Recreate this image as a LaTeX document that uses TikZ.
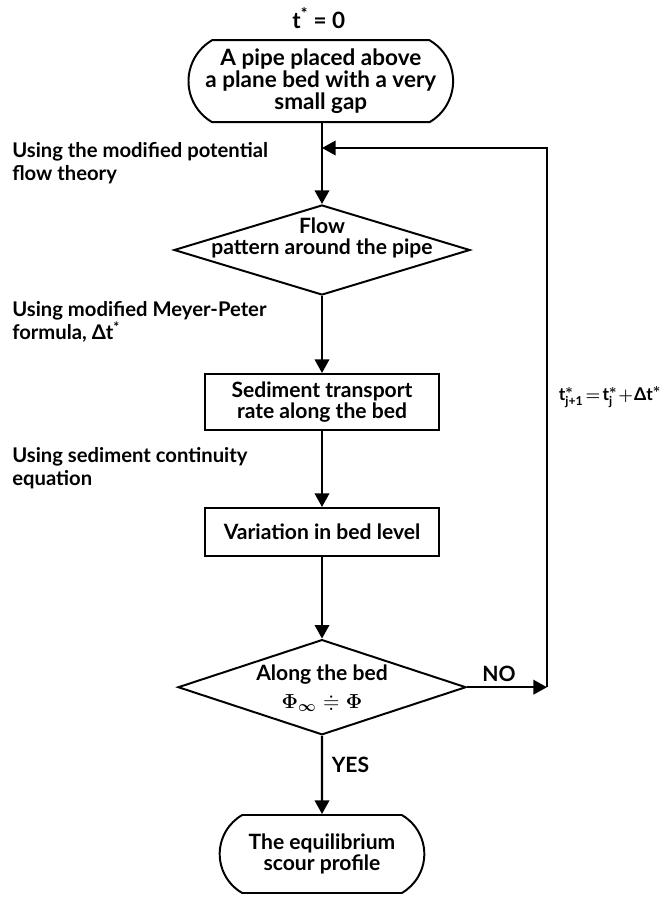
\documentclass[tikz,border=0pt]{standalone}
\usepackage{amsmath,amssymb}
\usepackage{fontspec}
\setmainfont{Lato}
\usetikzlibrary{arrows.meta,positioning,shapes.geometric,shapes.misc}
\tikzset{
  >={Triangle[length=3.4mm,width=3.6mm]},
  boxtext/.style={align=center,font=\fontsize{15}{15.5}\selectfont\bfseries\boldmath},
  term/.style={boxtext,draw,line width=1.4pt,rounded rectangle,rounded rectangle arc length=120},
  process/.style={boxtext,draw,line width=1.4pt,minimum width=5.85cm},
  decision/.style={diamond,draw,line width=1.4pt,inner sep=0pt},
  flow/.style={->,line width=1.6pt},
  note/.style={align=left,inner sep=0pt,font=\fontsize{14.4}{16.5}\selectfont\bfseries},
}

\begin{document}
\begin{tikzpicture}
  \useasboundingbox (0,0) rectangle (16.675,-22.425);
  % boxes down the middle
  \node[boxtext,font=\fontsize{16}{16}\selectfont\bfseries] (t0) at (7.97,-0.45) {t\textsuperscript{*} = 0};
  \node[term,minimum width=6.85cm,minimum height=2.05cm,font=\fontsize{16}{15.5}\selectfont\bfseries]
    (pipe) at (8.02,-2.03) {A pipe placed above\\a plane bed with a very\\small gap};
  \node[decision,minimum width=7.4cm,minimum height=2.25cm] (pattern) at (8.05,-6.25) {};
  \node[boxtext] (pattern-txt) at (8.05,-5.95) {Flow\\pattern around the pipe};
  \node[process,minimum height=1.4cm] (rate) at (8.05,-10.05) {Sediment transport\\rate along the bed};
  \node[process,minimum height=1.2cm] (level) at (8.05,-13.3) {Variation in bed level};
  \node[decision,minimum width=7.2cm,minimum height=2.38cm] (check) at (8.05,-17.18) {};
  \node[boxtext] (check-txt) at (8.05,-17.2) {Along the bed\\[4pt]$\Phi_{\infty}\doteqdot\Phi$};
  \node[term,minimum width=5.35cm,minimum height=1.95cm] (scour) at (8.05,-21.35) {The equilibrium\\scour profile};

  % method notes on the left
  \foreach \y/\t [count=\i] in {-3.55/{Using the modified potential\\flow theory},
     -7.52/{Using modified Meyer-Peter\\formula, Δt\textsuperscript{*}},
     -11.17/{Using sediment continuity\\equation}}
    \node[note,anchor=north west] (note\i) at (0.3,\y) {\t};

  % arrows
  \draw[flow] (pipe.south -| pattern) -- (pattern);
  \draw[flow] (pattern) -- (rate);
  \draw[flow] (rate) -- (level);
  \draw[flow] (level) -- (check);
  \draw[flow] (check) -- node[boxtext,right=1mm,pos=0.37] (yes) {YES} (scour);

  % loop back for the next time step
  \coordinate (turn) at (13.675,-17.18);
  \coordinate (back) at (8.05,-3.7);
  \draw[flow] (check.east) -- node[boxtext,above,pos=0.4] (no) {NO} (turn);
  \draw[flow] (turn) |- (back);
  \node[boxtext,font=\fontsize{12.5}{14}\selectfont\bfseries\boldmath] (step-eq) at (15.25,-9.93)
    {$\text{t}^{*}_{\text{j+1}}\!=\!\text{t}^{*}_{\text{j}}\!+\!\text{Δt}^{*}$};
\end{tikzpicture}
\end{document}
